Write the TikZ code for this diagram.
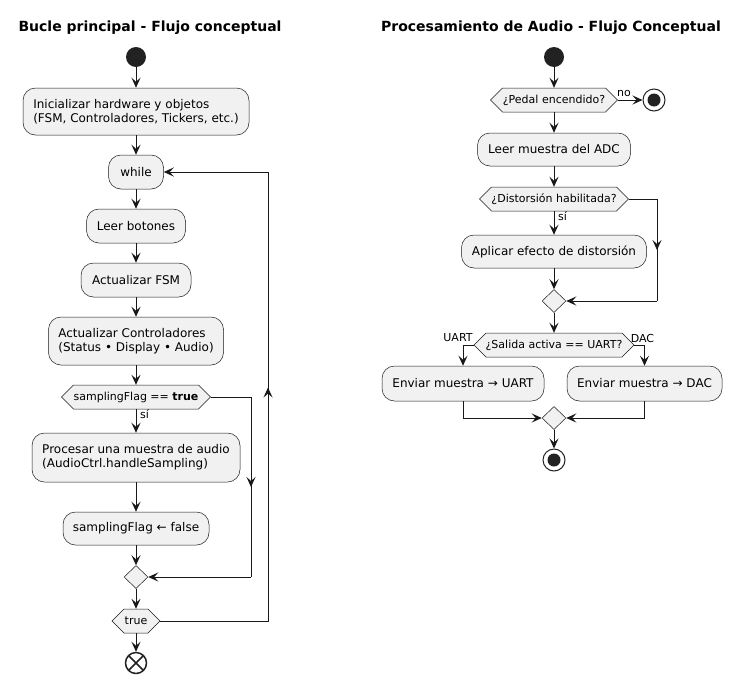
\documentclass[tikz,border=0pt]{standalone}
\usepackage{fontspec}
\setmainfont{DejaVu Sans}
\usetikzlibrary{arrows.meta,calc,shapes.geometric}
\definecolor{boxfill}{HTML}{F1F1F1}
\definecolor{ink}{HTML}{181818}
\definecolor{dotc}{HTML}{222222}
\newcommand\hexa[5]{%
  \draw[draw=ink, fill=boxfill, line width=0.5pt] ({#2-#4},#3) -- ({#2-#4+12},{#3-12}) -- ({#2+#4-12},{#3-12}) -- ({#2+#4},#3) -- ({#2+#4-12},{#3+12}) -- ({#2-#4+12},{#3+12}) -- cycle;
  \node[hextext, minimum width={2*#4pt}] (#1) at (#2,#3) {#5};}
\begin{document}
\begin{tikzpicture}[x=1pt,y=-1pt,
  act/.style={draw=ink, fill=boxfill, line width=0.5pt, rounded corners=12.5pt, inner sep=0pt, font=\fontsize{12}{14.3}\selectfont, align=left},
  hextext/.style={inner sep=0pt, minimum height=24pt, font=\fontsize{11}{13}\selectfont},
  merge/.style={diamond, draw=ink, fill=boxfill, line width=0.5pt, minimum width=24pt, minimum height=23pt, inner sep=0pt, aspect=1},
  conn/.style={draw=ink, line width=1pt},
  arr/.style={conn, -{Stealth[length=10pt,width=9pt,inset=4pt]}},
  lbl/.style={font=\fontsize{11}{13}\selectfont, inner sep=0pt, text=black},
  titl/.style={font=\bfseries\fontsize{14}{16}\selectfont, inner sep=0pt},
  startdot/.style={circle, fill=dotc, minimum size=20pt, inner sep=0pt},
  stopc/.style={circle, draw=dotc, fill=white, line width=1pt, minimum size=22pt, inner sep=0pt,
    path picture={\fill[dotc] (path picture bounding box.center) circle (6.5pt);}},
  endx/.style={circle, draw=dotc, fill=white, line width=1.5pt, minimum size=21pt, inner sep=0pt,
    path picture={\draw[dotc, line width=1.5pt] ($(path picture bounding box.center)+(-9pt,-9pt)$) -- ($(path picture bounding box.center)+(9pt,9pt)$)
      ($(path picture bounding box.center)+(-9pt,9pt)$) -- ($(path picture bounding box.center)+(9pt,-9pt)$);}}
]
\fill[white] (0,0) rectangle (754,683);
\useasboundingbox (0,0) rectangle (754,683);

% ---------------- Left diagram ----------------
\node[titl] (t1) at (150,28) {Bucle principal - Flujo conceptual};
\node[startdot] (start1) at (136,57) {};
\node[act, minimum width=226pt, minimum height=47pt] (init) at (136,111.5) {Inicializar hardware y objetos\\(FSM, Controladores, Tickers, etc.)};
\node[act, minimum width=55pt, minimum height=34pt] (while) at (136,172) {while};
\node[act, minimum width=99pt, minimum height=34pt] (leer) at (136,226) {Leer botones};
\node[act, minimum width=110pt, minimum height=34pt] (fsm) at (136,280) {Actualizar FSM};
\node[act, minimum width=175pt, minimum height=48pt] (ctrl) at (136,341) {Actualizar Controladores\\(Status • Display • Audio)};
\hexa{hexF}{136}{397}{74.5}{samplingFlag == \textbf{true}}
\node[act, minimum width=208pt, minimum height=49pt] (proc) at (136,457.5) {Procesar una muestra de audio\\(AudioCtrl.handleSampling)};
\node[act, minimum width=146pt, minimum height=33pt] (flagf) at (136,528.5) {samplingFlag ← false};
\node[merge] (m1) at (136,577) {};
\hexa{hexT}{136}{621}{24}{true}
\node[endx] (end1) at (136,663) {};

\coordinate (c1) at (251,397);
\coordinate (c2) at (251,577);
\coordinate (c3) at (268,621);
\coordinate (c4) at (268,172);

\draw[arr] (start1) -- (init);
\draw[arr] (init) -- (while);
\draw[arr] (while) -- (leer);
\draw[arr] (leer) -- (fsm);
\draw[arr] (fsm) -- (ctrl);
\draw[arr] (ctrl) -- (hexF.north);
\draw[arr] (hexF.south) -- (proc);
\node[lbl, anchor=west] (si1) at (140,414) {sí};
\draw[arr] (proc) -- (flagf);
\draw[arr] (flagf) -- (m1);
\draw[conn] (hexF.east) -- (c1) -- (c2);
\draw[arr] (c1) -- ($(c1)!0.5!(c2)$);
\draw[arr] (c2) -- (m1.east);
\draw[arr] (m1) -- (hexT.north);
\draw[arr] (hexT.south) -- (end1);
\draw[conn] (hexT.east) -- (c3) -- (c4);
\draw[arr] (c3) -- ($(c3)!0.52!(c4)$);
\draw[arr] (c4) -- (while.east);

% ---------------- Right diagram ----------------
\node[titl] (t2) at (551,28) {Procesamiento de Audio - Flujo Conceptual};
\node[startdot] (start2) at (554,57) {};
\hexa{hexP}{554}{100}{63.5}{¿Pedal encendido?}
\node[stopc] (stop1) at (654,100) {};
\node[act, minimum width=153pt, minimum height=33pt] (adc) at (554,149.5) {Leer muestra del ADC};
\hexa{hexD}{554}{199}{74.5}{¿Distorsión habilitada?}
\node[act, minimum width=185pt, minimum height=33pt] (apl) at (554,251.5) {Aplicar efecto de distorsión};
\node[merge] (m2) at (554,301) {};
\hexa{hexS}{554}{345}{80}{¿Salida activa == UART?}
\node[act, minimum width=162pt, minimum height=35pt] (uart) at (463,383.5) {Enviar muestra → UART};
\node[act, minimum width=155pt, minimum height=35pt] (dac) at (644.5,383.5) {Enviar muestra → DAC};
\node[merge] (m3) at (554,418) {};
\node[stopc] (stop2) at (554,460) {};

\coordinate (c5) at (657,199);
\coordinate (c6) at (657,301);
\coordinate (c7) at (463,345);
\coordinate (c8) at (644.5,345);
\coordinate (c9) at (463,418);
\coordinate (c10) at (644.5,418);

\draw[arr] (start2) -- (hexP.north);
\draw[arr] (hexP.east) -- (stop1);
\node[lbl] (no) at (624,93) {no};
\draw[arr] (hexP.south) -- (adc);
\draw[arr] (adc) -- (hexD.north);
\draw[arr] (hexD.south) -- (apl);
\node[lbl, anchor=west] (si2) at (558,216) {sí};
\draw[arr] (apl) -- (m2);
\draw[conn] (hexD.east) -- (c5) -- (c6);
\draw[arr] (c5) -- ($(c5)!0.5!(c6)$);
\draw[arr] (c6) -- (m2.east);
\draw[arr] (m2) -- (hexS.north);
\draw[conn] (hexS.west) -- (c7);
\draw[arr] (c7) -- (uart);
\node[lbl] (lu) at (458,338) {UART};
\draw[conn] (hexS.east) -- (c8);
\draw[arr] (c8) -- (dac);
\node[lbl] (ld) at (642.5,338) {DAC};
\draw[conn] (uart) -- (c9);
\draw[arr] (c9) -- (m3.west);
\draw[conn] (dac) -- (c10);
\draw[arr] (c10) -- (m3.east);
\draw[arr] (m3) -- (stop2);
\end{tikzpicture}
\end{document}
